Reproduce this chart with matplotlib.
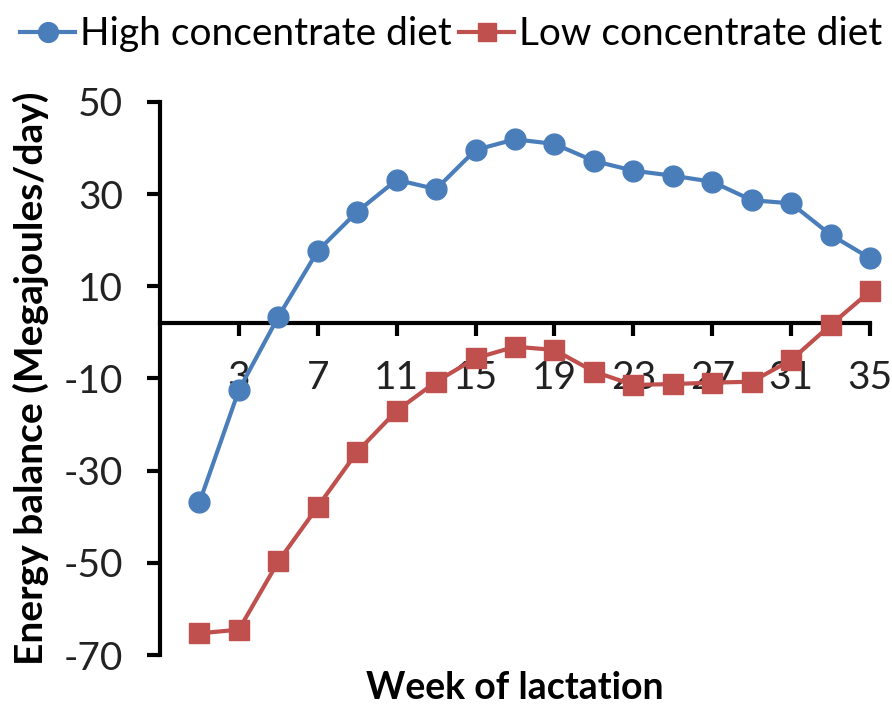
import matplotlib
matplotlib.use("Agg")
import matplotlib.pyplot as plt

plt.rcParams['font.family'] = ['Lato', 'DejaVu Sans']
plt.rcParams['axes.unicode_minus'] = False

weeks = [1, 3, 5, 7, 9, 11, 13, 15, 17, 19, 21, 23, 25, 27, 29, 31, 33, 35]
high_conc = [-36.9, -12.5, 3.4, 17.7, 26.2, 33.1, 31.1, 39.6, 41.9, 40.9,
             37.2, 35.1, 34.0, 32.7, 28.7, 28.0, 21.2, 16.1]
low_conc = [-65.3, -64.5, -49.7, -37.8, -25.9, -17.0, -10.7, -5.6, -3.1, -3.8,
            -8.5, -11.4, -11.2, -10.9, -10.7, -6.0, 1.6, 8.9]
xticks = [3, 7, 11, 15, 19, 23, 27, 31, 35]
yticks = [-70, -50, -30, -10, 10, 30, 50]
series_names = ["High concentrate diet", "Low concentrate diet"]

fig = plt.figure(figsize=(8.92, 7.04), dpi=100)
ax = fig.add_axes([160/892, 1-655/704, 710/892, (655-102)/704])

ax.plot(weeks, high_conc, color='#4A7EBB', lw=3, marker='o', ms=15,
        label=series_names[0], clip_on=False, zorder=3)
ax.plot(weeks, low_conc, color='#C0504D', lw=3, marker='s', ms=14,
        label=series_names[1], clip_on=False, zorder=3)

ax.set_xlim(-1, 35)
ax.set_ylim(-70, 50)
ax.set_xticks(xticks)
ax.set_yticks(yticks)
ax.spines['top'].set_visible(False)
ax.spines['right'].set_visible(False)
ax.spines['bottom'].set_position(('data', 2))
for s in ('left', 'bottom'):
    ax.spines[s].set_linewidth(3)
    ax.spines[s].set_color('black')
    ax.spines[s].set_zorder(2)
ax.tick_params(axis='both', direction='out', length=9.5, width=3,
               labelsize=28, colors='black')
ax.tick_params(axis='x', pad=17)
ax.tick_params(axis='y', pad=17)
for lbl in ax.get_yticklabels() + ax.get_xticklabels():
    lbl.set_color('#222222')

fig.text(515/892, 1-688/704, "Week of lactation", fontsize=27, fontweight='bold',
         ha='center', va='center')
fig.text(31/892, 1-378/704, "Energy balance (Megajoules/day)", fontsize=28,
         fontweight='bold', rotation=90, ha='center', va='center')

fig.legend(loc='upper center', bbox_to_anchor=(0.506, 1.01), ncol=2, frameon=False,
           fontsize=28, handlelength=1.4, handletextpad=0.13, columnspacing=0.2,
           markerscale=0.95, borderpad=0.1)

fig.savefig("out.png", dpi=100)
